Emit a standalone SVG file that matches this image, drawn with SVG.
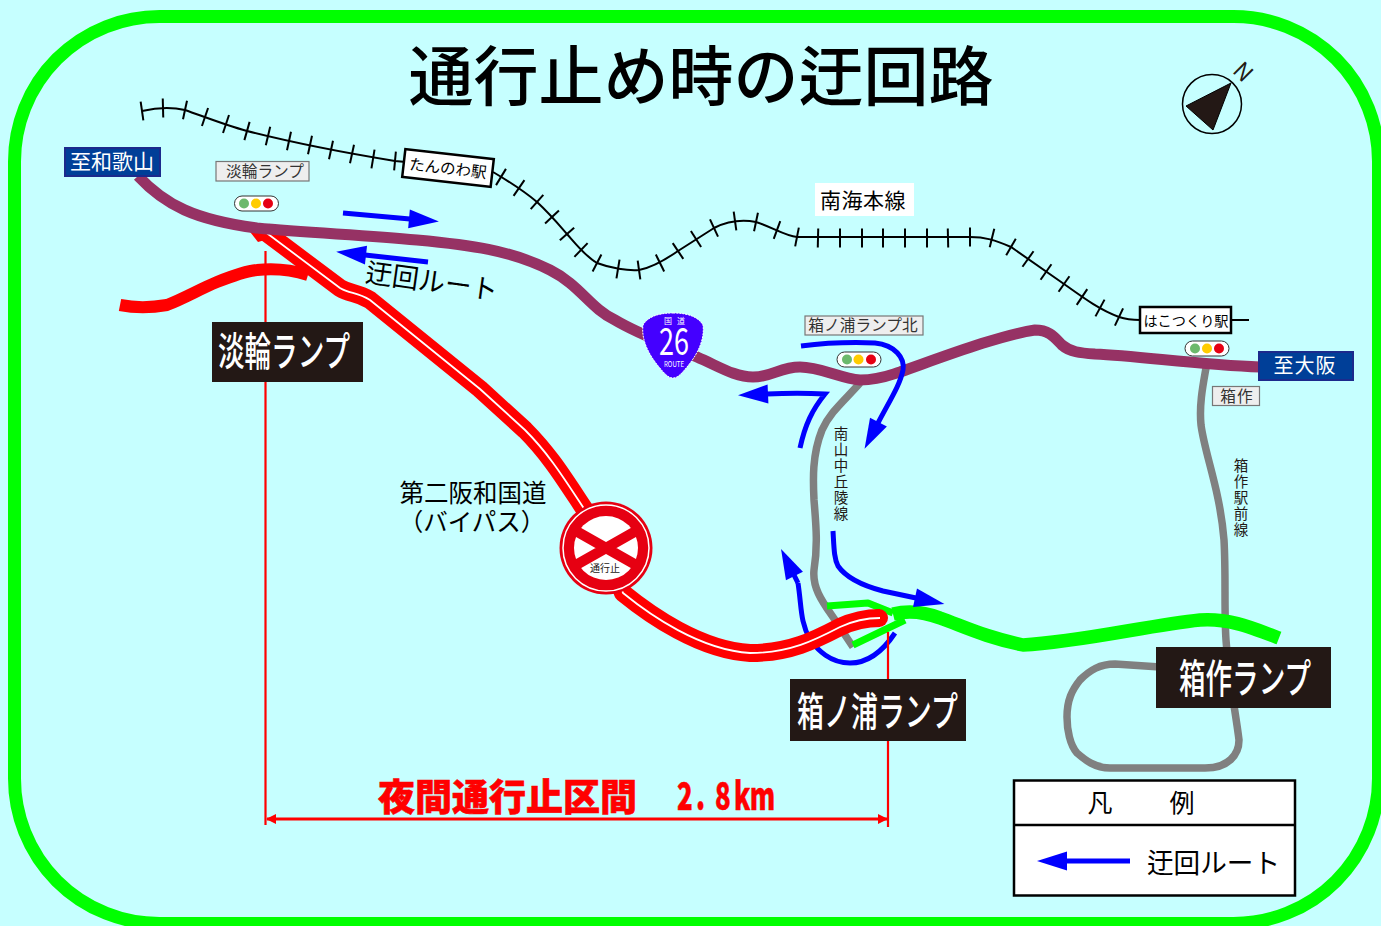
<svg xmlns="http://www.w3.org/2000/svg" width="1381" height="926" viewBox="0 0 1381 926">
<style>
text{font-family:"Noto Sans CJK JP","Noto Sans",sans-serif;fill:#231815}
.road{fill:none;stroke-linejoin:round}
.purple{stroke:#963264;stroke-width:11}
.gray{stroke:#808080;stroke-width:7.500}
.redo{stroke:#ff0000;stroke-width:18}
.redi{stroke:#ffffff;stroke-width:1.800}
.green{stroke:#00ff00}
.blue{stroke:#0000ff;stroke-width:5;fill:none;marker-end:url(#head)}
.sign{fill:#003f98;stroke:#1c2a8c;stroke-width:2}
.signt{fill:#fff;font-size:21px;text-anchor:middle}
.small{fill:#eeeeee;stroke:#777;stroke-width:1.200}
.smallt{font-size:15.700px;text-anchor:middle;fill:#333}
.lamp{fill:#fff;stroke:#333;stroke-width:1}
.g{fill:#6cb96c}.y{fill:#ffcc00}.r{fill:#e60012}
.black{fill:#231815}
.blackt{fill:#fff;font-size:40px;font-weight:500}
.vert{font-size:14.500px;text-anchor:middle}
.st{fill:#fff;stroke:#000;stroke-width:2.500}
</style>
<defs>
<marker id="head" markerUnits="userSpaceOnUse" markerWidth="34" markerHeight="24" refX="1" refY="12" orient="auto" overflow="visible"><path d="M0,2.500L30,12L0,21.500z" fill="#0000ff"/></marker>
<marker id="tick" markerUnits="userSpaceOnUse" markerWidth="4" markerHeight="22" refX="2" refY="11" orient="auto"><path d="M2,1.500V20.500" stroke="#000" stroke-width="2"/></marker>
<marker id="dimS" markerUnits="userSpaceOnUse" markerWidth="12" markerHeight="12" refX="1" refY="6" orient="auto"><path d="M0,6L10,1V11z" fill="#f00"/></marker>
<marker id="dimE" markerUnits="userSpaceOnUse" markerWidth="12" markerHeight="12" refX="11" refY="6" orient="auto"><path d="M12,6L2,1V11z" fill="#f00"/></marker>
<path id="byp" d="M264,231L340,288C350,294 357,292 370,300L480,389L525,430C550,455 565,480 585,510L606,548L623,593C650,615 700,650 750,653C790,653 815,640 840,627C855,620 868,618 880,618"/>
</defs>
<rect width="1381" height="926" fill="#c6ffff"/>
<rect x="14.500" y="16.500" width="1364" height="907" rx="145" fill="none" stroke="#00ff00" stroke-width="13"/>
<text x="701" y="100" font-size="65" font-weight="500" textLength="585" lengthAdjust="spacingAndGlyphs" text-anchor="middle" style="fill:#000">通行止め時の迂回路</text>

<g id="connectors">
<g id="railway">
<path fill="none" stroke="#000" stroke-width="2" d="M142,111C155,108 172,107 185,110C205,117 225,125 247,131C290,142 340,152 395,161L406,162M493,172C510,182 525,192 537,202C550,214 560,226 567,234C575,243 585,256 597,263C610,268 628,271 639,270C650,268 665,260 678,251L714,228C730,220 745,220 756,222C772,227 785,236 797,237H970C985,237 995,240 1011,247L1064,284C1085,299 1100,310 1119,317C1125,319 1130,320 1140,320M1232,320H1249"/>
<polyline fill="none" marker-start="url(#tick)" marker-mid="url(#tick)" marker-end="url(#tick)" points="142,111 163,108 185,110 205,117 226,124 247,131 268,136 289,141 310,145 331,150 352,154 373,159 395,161"/>
<polyline fill="none" marker-start="url(#tick)" marker-mid="url(#tick)" marker-end="url(#tick)" points="501,177 519,188 537,202 552,217 567,234 581,250 597,263 618,269 639,270 660,263 678,251 696,239 714,228 735,221 756,222 777,230 797,237 818,238 840,238 862,238 883,238 905,238 927,238 948,238 970,237 992,238 1011,247 1028,259 1046,272 1064,284 1082,297 1100,308 1119,317"/>
</g>
<path class="road gray" d="M860,383C845,400 830,412 822,430C812,455 813,480 814,500C816,525 818,545 814,570C812,590 825,605 837,623L853,647"/>
<path class="road gray" d="M1206,368C1203,385 1199,405 1201,425C1205,455 1220,490 1224,540C1226,575 1224,610 1226,640C1229,680 1236,715 1239,740C1239,755 1228,768 1205,768H1110C1095,768 1085,760 1077,753C1070,745 1067,730 1067,717C1067,700 1072,690 1080,680C1090,670 1100,664 1115,664L1160,667"/>
<path class="blue" style="marker-end:none" d="M895,633C885,648 870,663 850,663C830,663 818,650 810,640C800,620 802,610 798,583"/>
<path fill="none" stroke="#0000ff" stroke-width="5" d="M798,583L794,575" marker-end="url(#head)"/>
<path class="road green" stroke-width="7" d="M827,606L868,603L893,613M853,645L905,620"/>
<path class="road green" stroke-width="13.500" d="M893,614C905,611 922,611 940,618C965,627 985,637 1023,645C1080,642 1150,625 1200,620C1228,618 1250,627 1279,638"/>
<path class="road" stroke="#ff0000" stroke-width="12" d="M120,305C135,308 150,308 167,305C185,298 200,289 217,282C232,276 245,271 257,270C275,268 292,270 308,275"/>
<path d="M247,228H278L272,238L258,242z" fill="#ff0000"/>
<circle cx="879" cy="618" r="9" fill="#ff0000"/>
<use href="#byp" class="road redo"/>
<use href="#byp" class="road redi"/>
<path class="road purple" d="M138,176C165,205 195,220 257,228C310,233 365,235 417,240C470,245 510,250 550,270C580,285 590,308 615,320C640,335 670,345 697,357C720,367 735,377 753,377C772,377 780,367 800,367C820,367 840,378 860,380C880,380 890,375 900,372C940,358 1000,335 1035,330C1050,330 1055,338 1062,345C1070,352 1080,353 1095,354C1140,356 1200,365 1260,367"/>
<path class="blue" d="M343,213L410,219"/>
<path class="blue" d="M428,262L365,255"/>
<path class="blue" d="M801,346C825,343 850,342 875,343C895,345 905,358 903,370C900,385 890,400 878,423"/>
<path class="blue" d="M800,448C805,425 812,410 825,394C805,393 790,393 767,394"/>
<path class="blue" d="M833,531C834,548 834,558 838,566C845,576 860,585 883,591L916,598"/>
<path d="M265.500,251V825M888,632V827" stroke="#ff0000" stroke-width="2.200" fill="none"/>
<path d="M267,819H887" stroke="#ff0000" stroke-width="3" fill="none" marker-start="url(#dimS)" marker-end="url(#dimE)"/>
</g>

<g id="wakayama"><rect class="sign" x="65" y="148" width="95" height="28"/><text class="signt" x="112" y="169">至和歌山</text></g>
<g id="osaka"><rect class="sign" x="1259" y="352" width="94" height="28"/><text class="signt" x="1305" y="373" style="font-size:20px" letter-spacing="1">至大阪</text></g>
<g id="tannowa-label"><rect class="small" x="216" y="161.500" width="93" height="19.500"/><text class="smallt" x="265" y="177">淡輪ランプ</text></g>
<g id="hakonoura-n-label"><rect class="small" x="805" y="316" width="118" height="19"/><text class="smallt" x="863" y="331">箱ノ浦ランプ北</text></g>
<g id="hakotsukuri-label"><rect class="small" x="1212.500" y="386.500" width="47" height="19"/><text class="smallt" x="1237" y="402" letter-spacing="1">箱作</text></g>
<g id="lamp1"><rect class="lamp" x="234.500" y="196" width="44" height="15" rx="7.500"/><circle class="g" cx="244" cy="203.500" r="5"/><circle class="y" cx="256" cy="203.500" r="5"/><circle class="r" cx="268" cy="203.500" r="5"/></g>
<g id="lamp2"><rect class="lamp" x="837" y="352" width="44" height="15" rx="7.500"/><circle class="g" cx="847" cy="359.500" r="5"/><circle class="y" cx="858.500" cy="359.500" r="5"/><circle class="r" cx="871" cy="359.500" r="5"/></g>
<g id="lamp3"><rect class="lamp" x="1185" y="341" width="44" height="15" rx="7.500"/><circle class="g" cx="1195" cy="348.500" r="5"/><circle class="y" cx="1207" cy="348.500" r="5"/><circle class="r" cx="1219" cy="348.500" r="5"/></g>

<g id="tannowa-station"><rect class="st" x="403.500" y="154" width="89" height="28" transform="rotate(6.500 448 168)"/><text x="448" y="174" font-size="15.500" text-anchor="middle" transform="rotate(6.500 448 168)" style="fill:#000">たんのわ駅</text></g>
<g id="hakotsukuri-station"><rect class="st" x="1140" y="307" width="91" height="26"/><text x="1186" y="325.500" font-size="14.200" text-anchor="middle" style="fill:#000">はこつくり駅</text></g>
<g id="nankai-label"><rect x="815" y="183" width="99" height="33" fill="#fff"/><text x="863" y="208" font-size="21" text-anchor="middle" letter-spacing="0.500" style="fill:#000">南海本線</text></g>

<g id="route-label"><text x="432" y="291" font-size="27" text-anchor="middle" textLength="133" lengthAdjust="spacingAndGlyphs" transform="rotate(8 432 280)" style="fill:#000">迂回ルート</text></g>
<g id="bypass-label"><text x="473" y="502" font-size="24.500" text-anchor="middle" style="fill:#000">第二阪和国道</text><text x="472" y="531" font-size="24.500" text-anchor="middle" style="fill:#000">（バイパス）</text></g>

<g id="nanzan-label"><text class="vert"><tspan x="841" y="439">南</tspan><tspan x="841" y="455">山</tspan><tspan x="841" y="471">中</tspan><tspan x="841" y="487">丘</tspan><tspan x="841" y="503">陵</tspan><tspan x="841" y="519">線</tspan></text></g>
<g id="hakotsukuri-line-label"><text class="vert"><tspan x="1241" y="471">箱</tspan><tspan x="1241" y="487">作</tspan><tspan x="1241" y="503">駅</tspan><tspan x="1241" y="519">前</tspan><tspan x="1241" y="535">線</tspan></text></g>

<g id="tannowa-ramp"><rect class="black" x="212" y="322" width="151" height="60"/><text class="blackt" x="218" y="366" textLength="132" lengthAdjust="spacingAndGlyphs">淡輪ランプ</text></g>
<g id="hakonoura-ramp"><rect class="black" x="790" y="679" width="176" height="62"/><text class="blackt" x="797" y="726" textLength="161" lengthAdjust="spacingAndGlyphs">箱ノ浦ランプ</text></g>
<g id="hakotsukuri-ramp"><rect class="black" x="1156" y="647" width="175" height="61"/><text class="blackt" x="1179" y="693" textLength="132" lengthAdjust="spacingAndGlyphs">箱作ランプ</text></g>

<g id="route26">
<path d="M673,313C690,313 699,318 703,325C705,340 697,355 687,367C682,373 678,378 673,378C668,378 664,373 659,367C649,355 641,340 643,325C647,318 656,313 673,313z" fill="#4400ff" stroke="#fff" stroke-width="1" stroke-dasharray="2 1"/>
<text x="677" y="323.500" font-size="8" text-anchor="middle" letter-spacing="5" style="fill:#fff">国道</text>
<text x="674" y="355" font-size="38" text-anchor="middle" textLength="30" lengthAdjust="spacingAndGlyphs" style="fill:#fff">26</text>
<text x="674" y="367" font-size="8" text-anchor="middle" textLength="20" lengthAdjust="spacingAndGlyphs" style="fill:#fff">ROUTE</text>
</g>

<g id="closed-sign">
<circle cx="606" cy="548" r="46.500" fill="#e60012"/>
<circle cx="606" cy="548" r="43" fill="none" stroke="#fff" stroke-width="1.500"/>
<circle cx="606" cy="548" r="32" fill="#fff"/>
<path d="M576,531L636,565M636,531L576,565" stroke="#e60012" stroke-width="10.500" fill="none"/>
<text x="605" y="572" font-size="10" text-anchor="middle">通行止</text>
</g>

<g id="north">
<circle cx="1212" cy="104" r="29.500" fill="none" stroke="#000" stroke-width="1.500"/>
<path d="M1231,83L1186,106L1213,130z" fill="#231815" stroke="#000"/>
<text x="1243" y="80" font-size="23" text-anchor="middle" transform="rotate(45 1243 72)" font-family="Liberation Sans">N</text>
</g>

<g id="distance"><text x="378" y="811" font-size="37" font-weight="900" textLength="259" lengthAdjust="spacingAndGlyphs" style="fill:#ff0000;stroke:#ff0000;stroke-width:.6">夜間通行止区間</text><text transform="translate(677 810) scale(.68 1)" x="0 28 56 84 107" y="0" font-size="38" font-weight="900" style="fill:#ff0000;stroke:#ff0000;stroke-width:.5">2.8km</text></g>

<g id="legend">
<rect x="1014" y="780.500" width="281" height="115" fill="#fff" stroke="#000" stroke-width="2.500"/>
<path d="M1014,825H1294" stroke="#000" stroke-width="2.500"/>
<text x="1100" y="812" font-size="25" text-anchor="middle" style="fill:#000">凡</text>
<text x="1182" y="812" font-size="25" text-anchor="middle" style="fill:#000">例</text>
<path class="blue" d="M1130,861H1066"/>
<text x="1147" y="873" font-size="27" textLength="133" lengthAdjust="spacingAndGlyphs" style="fill:#000">迂回ルート</text>
</g>
</svg>
